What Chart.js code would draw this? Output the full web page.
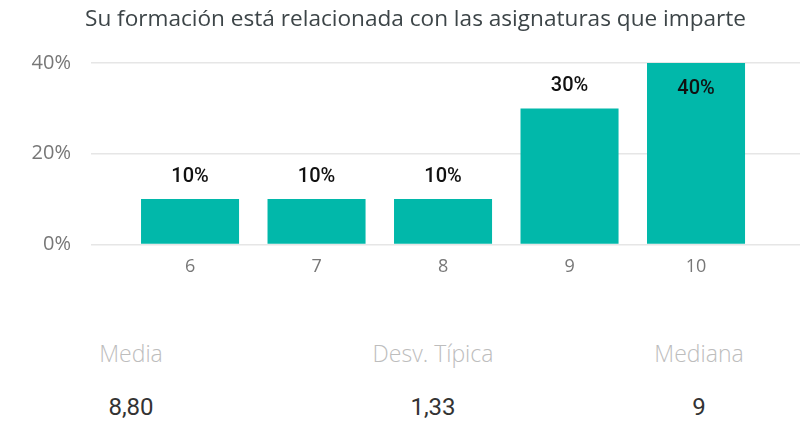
<!DOCTYPE html>
<html>
<head>
<meta charset="utf-8">
<script src="https://cdn.jsdelivr.net/npm/chart.js@4.4.1/dist/chart.umd.min.js"></script>
<style>
  html, body { margin: 0; padding: 0; background: #fff; }
  #wrap { position: relative; width: 808px; height: 423px; overflow: hidden; }
  #c { position: absolute; left: 0; top: 0; }
  .stat { position: absolute; width: 240px; text-align: center; }
  .lbl { font-family: "Open Sans", sans-serif; font-weight: 300; font-size: 23px; color: #bdbdbd; }
  .val { font-family: Roboto, sans-serif; font-size: 24px; color: #333; }
</style>
</head>
<body>
<div id="wrap">
  <canvas id="c" width="808" height="290"></canvas>
</div>
<script>
// datos del gráfico
const categories = [6, 7, 8, 9, 10];
const percents = [10, 10, 10, 30, 40];
const yTicks = [0, 20, 40];
const title = "Su formación está relacionada con las asignaturas que imparte";

// resumen debajo
const statLabels = ["Media", "Desv. Típica", "Mediana"];
const statValues = ["8,80", "1,33", "9"];
const statCenters = [131, 433, 699];

const wrap = document.getElementById("wrap");
statLabels.forEach((l, i) => {
  const a = document.createElement("div");
  a.className = "stat lbl";
  a.style.left = (statCenters[i] - 120) + "px";
  a.style.top = "337px";
  a.textContent = l;
  wrap.appendChild(a);
  const b = document.createElement("div");
  b.className = "stat val";
  b.style.left = (statCenters[i] - 120) + "px";
  b.style.top = "393px";
  b.textContent = statValues[i];
  wrap.appendChild(b);
});

// etiquetas sobre las barras
const barLabels = {
  id: "barLabels",
  afterDatasetsDraw(chart) {
    const ctx = chart.ctx;
    const area = chart.chartArea;
    ctx.save();
    ctx.font = "500 20px Roboto";
    ctx.fillStyle = "#111";
    ctx.textAlign = "center";
    ctx.textBaseline = "middle";
    chart.getDatasetMeta(0).data.forEach((bar, i) => {
      let y = bar.y - 22;
      if (bar.y - 36 < area.top) y = bar.y + 26;
      ctx.fillText(percents[i] + "%", bar.x, y);
    });
    ctx.restore();
  }
};

new Chart(document.getElementById("c"), {
  type: "bar",
  data: {
    datasets: [{
      data: categories.map((c, i) => ({ x: c, y: percents[i] })),
      backgroundColor: "#01B8AA",
      barPercentage: 0.775,
      categoryPercentage: 1
    }]
  },
  options: {
    responsive: false,
    animation: false,
    layout: { padding: { left: 31, right: 8, top: 0, bottom: 0 } },
    plugins: {
      legend: { display: false },
      tooltip: { enabled: false },
      title: {
        display: true,
        text: title,
        color: "#3d4548",
        font: { family: "Open Sans", size: 22.6, weight: "normal" },
        padding: { top: 6, bottom: 30 }
      }
    },
    scales: {
      x: {
        type: "linear",
        offset: false,
        min: 5.217,
        max: 10.822,
        grid: { display: false, drawTicks: false },
        border: { display: false },
        afterBuildTicks: (s) => { s.ticks = categories.map(v => ({ value: v })); },
        ticks: {
          color: "#777",
          font: { family: "Open Sans", size: 18 },
          padding: 12
        }
      },
      y: {
        min: 0,
        max: 40,
        afterBuildTicks: (s) => { s.ticks = yTicks.map(v => ({ value: v })); },
        afterFit: (s) => { s.width = 60; },
        grid: { color: "#e6e6e6", lineWidth: 1.5, drawTicks: false },
        border: { display: false },
        ticks: {
          color: "#777",
          font: { family: "Open Sans", size: 20 },
          padding: 20,
          callback: v => v + "%"
        }
      }
    }
  },
  plugins: [barLabels]
});
</script>
</body>
</html>
